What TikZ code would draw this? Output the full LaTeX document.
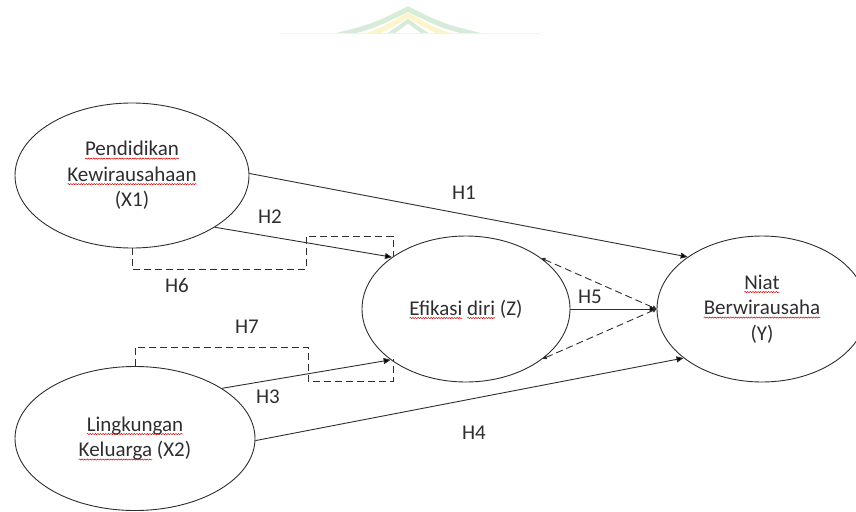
\documentclass[tikz,border=0pt]{standalone}
\usepackage{fontspec}
\setmainfont{Carlito}
\usetikzlibrary{shapes.geometric,arrows.meta,decorations.pathmorphing}
\definecolor{ink}{HTML}{2E2E2E}
\definecolor{wmgreen}{HTML}{D6EBD8}
\definecolor{wmyellow}{HTML}{FCF5CC}
\newsavebox\sqbox
\newlength\sqw
\newcommand\sq[1]{\sbox\sqbox{#1}\setlength\sqw{\wd\sqbox}\rlap{\usebox\sqbox}%
  \tikz[baseline=0pt]{\useasboundingbox (0pt,0pt) rectangle (\sqw,0pt);
  \draw[red!85!black, line width=0.5pt, decorate, decoration={snake,amplitude=0.6pt,segment length=2.6pt}] (0pt,-2.8pt) -- (\sqw,-2.8pt);}}
\tikzset{
  var/.style={draw=ink, line width=0.9pt, ellipse, inner sep=0pt, align=center,
     text=ink, font=\fontsize{21}{25.5}\selectfont},
  hyp/.style={text=ink, font=\fontsize{21}{25.5}\selectfont, inner sep=0pt},
  path/.style={draw=ink, line width=0.9pt, -{Triangle[length=7pt,width=6pt]}},
  dpath/.style={draw=ink, line width=0.9pt, dash pattern=on 7pt off 4pt},
  smalltips/.style={{Triangle[length=4pt,width=4pt]}-{Triangle[length=4pt,width=4pt]}},
}
\begin{document}
\begin{tikzpicture}[x=1pt,y=-1pt]
\useasboundingbox (0,0) rectangle (856,511);
% faint watermark at top
\begin{scope}
\clip (250,0) rectangle (600,34);
\draw[wmgreen, line width=5pt] (318,40) .. controls (372,27) .. (408,9) .. controls (444,27) .. (500,40);
\draw[wmyellow, line width=5pt] (330,45) .. controls (378,33) .. (408,15) .. controls (438,33) .. (488,45);
\draw[wmgreen, line width=4pt] (342,50) .. controls (384,39) .. (408,21) .. controls (432,39) .. (476,50);
\end{scope}
\draw[wmyellow, line width=1.5pt] (280,33.5) -- (540,33.5);

\node[var, minimum width=234pt, minimum height=145pt] (x1) at (132,175.5)
  {\sq{Pendidikan}\\\sq{Kewirausahaan}\\(X1)};
\node[var, minimum width=240pt, minimum height=144pt] (x2) at (135,438.5)
  {\sq{Lingkungan}\\\sq{Keluarga} (X2)};
\node[var, minimum width=208pt, minimum height=146pt] (z) at (466,309)
  {\sq{Efikasi} \sq{diri} (Z)};
\node[var, minimum width=210pt, minimum height=146pt] (y) at (762,309)
  {\sq{Niat}\\\sq{Berwirausaha}\\(Y)};

\draw[path] (x1.1) -- (y.145);
\draw[path] (x1.-32) -- (z.145);
\draw[path] (x2.30) -- (z.214);
\draw[path] (x2.-1) -- (y.212);
\draw[path] (z.east) -- (y.west);
\draw[dpath, smalltips] (z.34) -- (y.west);
\draw[dpath, smalltips] (z.-33) -- (y.west);

\coordinate (h6end) at (393,256);
\coordinate (h7end) at (393,359);
\draw[dpath] (x1.south) |- (306,269) |- (393,236) -- (h6end);
\draw[dpath] (x2.north) |- (308,347) |- (393,381) -- (h7end);

\node[hyp] (h1) at (464,193) {H1};
\node[hyp] (h2) at (270,217) {H2};
\node[hyp] (h6) at (177,285) {H6};
\node[hyp] (h7) at (247,327) {H7};
\node[hyp] (h3) at (268,397) {H3};
\node[hyp] (h5) at (590,297) {H5};
\node[hyp] (h4) at (474,433) {H4};
\end{tikzpicture}
\end{document}
